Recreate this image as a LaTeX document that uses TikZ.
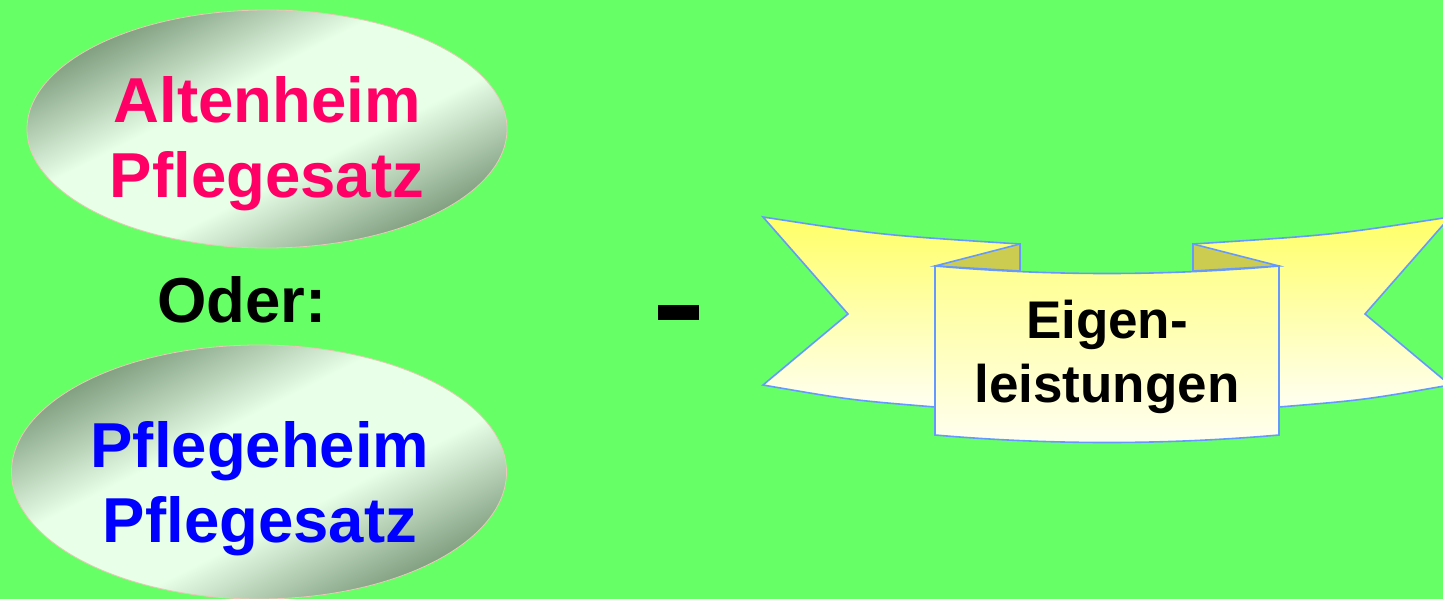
\documentclass[tikz,border=0pt]{standalone}
\usepackage{fontspec}
\setmainfont{Liberation Sans}
\usetikzlibrary{shapes.geometric}
\definecolor{bg}{HTML}{66FF66}
\definecolor{elldark}{RGB}{96,128,96}
\definecolor{elllight}{RGB}{232,255,232}
\definecolor{ellline}{RGB}{235,200,185}
\definecolor{magred}{HTML}{FF0066}
\definecolor{pureblue}{HTML}{0000FF}
\definecolor{banline}{HTML}{6699FF}
\definecolor{bantop}{HTML}{FFFF66}
\definecolor{banbot}{HTML}{FFFFF2}
\definecolor{fold}{RGB}{204,204,80}
\pgfdeclarehorizontalshading{ellband}{100bp}{color(0bp)=(elldark); color(21bp)=(elldark); color(42bp)=(elllight); color(58bp)=(elllight); color(79bp)=(elldark); color(100bp)=(elldark)}
\tikzset{
  ellbox/.style={ellipse, draw=ellline, line width=0.8pt, shading=ellband, shading angle=-63, inner sep=0pt},
  bigtext/.style={font=\fontsize{63.5}{75}\selectfont\bfseries, align=center, inner sep=0pt},
  bantext/.style={font=\fontsize{53}{64}\selectfont\bfseries, align=center, inner sep=0pt},
  banshape/.style={draw=banline, line width=1.6pt, line join=miter, top color=bantop, bottom color=banbot},
}
\begin{document}
\begin{tikzpicture}[x=1pt,y=-1pt]
\fill[bg] (0,0) rectangle (1443,599);
\useasboundingbox (0,0) rectangle (1443,599);
% ellipses
\node[ellbox, minimum width=480pt, minimum height=238pt] (e1) at (267,129) {};
\node[ellbox, minimum width=495pt, minimum height=254pt] (e2) at (259,472) {};
\node[bigtext, text=magred] (t1) at (267,144) {Altenheim\\Pflegesatz};
\node[bigtext, anchor=base] (oder) at (242,322) {Oder:};
\node[bigtext, text=pureblue] (t2) at (260,489) {Pflegeheim\\Pflegesatz};
% minus
\node[fill=black, minimum width=41pt, minimum height=15pt, inner sep=0pt] (minus) at (678.5,312.5) {};
% banner left wing
\path[banshape] (763,217) .. controls (880,235) .. (1020,244) -- (1020,400) -- (935,407)
   .. controls (850,400) .. (763,385) -- (848,314) -- cycle;
% banner right wing
\path[banshape] (1450,217) .. controls (1333,235) .. (1193,244) -- (1193,400) -- (1279,407)
   .. controls (1364,400) .. (1450,385) -- (1365,314) -- cycle;
% folds
\draw[banline, line width=1.6pt, fill=fold, line join=miter] (1020,244) -- (935,266) -- (1020,271) -- cycle;
\draw[banline, line width=1.6pt, fill=fold, line join=miter] (1193,244) -- (1279,266) -- (1193,271) -- cycle;
% central panel
\path[banshape, top color=bantop!70!banbot] (935,266) .. controls (1050,276) and (1164,276) .. (1279,266) -- (1279,435)
   .. controls (1164,445) and (1050,445) .. (935,435) -- cycle;
\node[bantext] (eig) at (1107,357) {Eigen-\\leistungen};
\end{tikzpicture}
\end{document}
